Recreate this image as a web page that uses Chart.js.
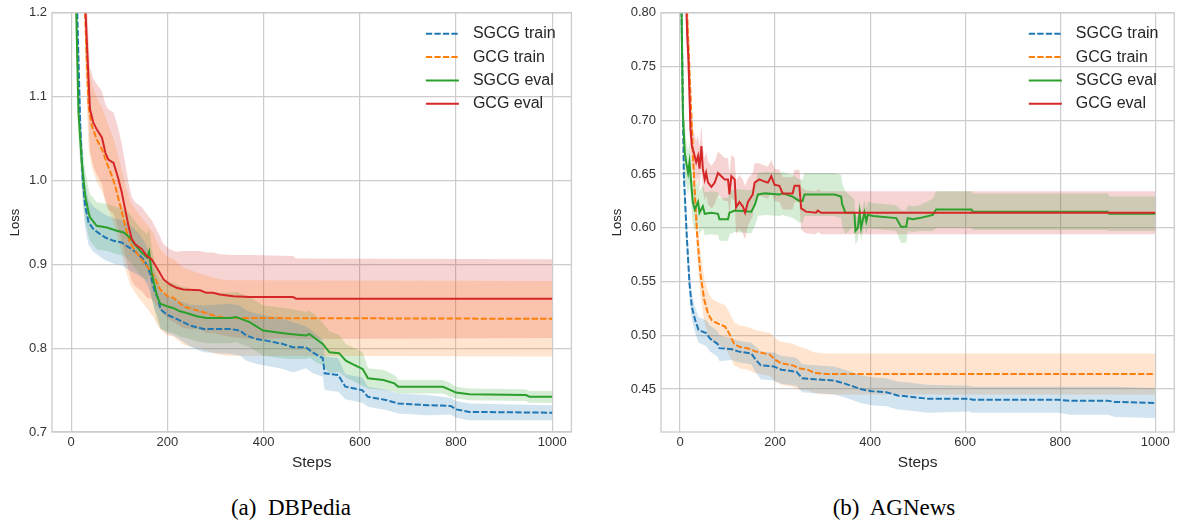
<!DOCTYPE html>
<html>
<head>
<meta charset="utf-8">
<script src="https://cdn.jsdelivr.net/npm/chart.js@4.4.1/dist/chart.umd.min.js"></script>
<style>
  body { margin: 0; background: #fff; }
  #fig { position: relative; width: 1178px; height: 521px; overflow: hidden; }
  .panel { position: absolute; top: 0; height: 480px; }
  .cap { position: absolute; top: 496px; font-family: "Liberation Serif", "Times New Roman", serif; font-size: 23px; line-height: 23px; white-space: pre; transform: translateX(-50%); color: #000; }
</style>
</head>
<body>
<div id="fig">
  <div class="panel" style="left:0;width:590px"><canvas id="dbpedia"></canvas></div>
  <div class="panel" style="left:590px;width:588px"><canvas id="agnews"></canvas></div>
  <div class="cap" style="left:291px">(a)  DBPedia</div>
  <div class="cap" style="left:894px">(b)  AGNews</div>
</div>
<script>
// ---- axis ticks ----
const xTicks = [0, 200, 400, 600, 800, 1000];
const dbYTicks = [0.7, 0.8, 0.9, 1.0, 1.1, 1.2];
const agYTicks = [0.45, 0.50, 0.55, 0.60, 0.65, 0.70, 0.75, 0.80];

// ---- DBPedia (a) ----
const dbSgcgTrainSteps = [12, 19, 24, 29, 36, 46, 60, 71, 88, 105, 115, 126, 140, 150, 158, 164, 174, 180, 186, 199, 219, 247, 275, 330, 351, 364, 385, 406, 440, 461, 488, 502, 523, 527, 555, 570, 605, 617, 656, 680, 742, 789, 800, 828, 1000];
const dbSgcgTrainMean = [1.21, 1.061, 1.000, 0.970, 0.950, 0.942, 0.936, 0.932, 0.928, 0.926, 0.922, 0.918, 0.912, 0.906, 0.898, 0.889, 0.867, 0.860, 0.846, 0.840, 0.835, 0.827, 0.823, 0.823, 0.821, 0.815, 0.811, 0.809, 0.805, 0.801, 0.801, 0.795, 0.788, 0.770, 0.768, 0.754, 0.750, 0.742, 0.738, 0.734, 0.732, 0.731, 0.727, 0.724, 0.723];
const dbSgcgTrainStd = [0.03, 0.03, 0.027, 0.027, 0.027, 0.027, 0.027, 0.027, 0.027, 0.027, 0.027, 0.027, 0.025, 0.023, 0.022, 0.022, 0.022, 0.022, 0.022, 0.022, 0.022, 0.025, 0.028, 0.03, 0.03, 0.03, 0.03, 0.03, 0.03, 0.03, 0.025, 0.025, 0.022, 0.02, 0.02, 0.015, 0.015, 0.012, 0.012, 0.012, 0.012, 0.01, 0.01, 0.01, 0.009];

const dbGcgTrainSteps = [28, 36, 43, 53, 64, 74, 84, 91, 102, 112, 122, 133, 143, 157, 171, 185, 200, 213, 233, 268, 302, 323, 1000];
const dbGcgTrainMean = [1.21, 1.089, 1.065, 1.049, 1.037, 1.021, 1.006, 0.994, 0.970, 0.946, 0.926, 0.916, 0.908, 0.898, 0.887, 0.870, 0.862, 0.860, 0.850, 0.844, 0.838, 0.836, 0.835];
const dbGcgTrainStd = [0.05, 0.05, 0.05, 0.05, 0.05, 0.05, 0.05, 0.05, 0.05, 0.05, 0.05, 0.05, 0.05, 0.05, 0.05, 0.048, 0.047, 0.046, 0.046, 0.045, 0.045, 0.045, 0.045];

const dbSgcgEvalSteps = [10, 15, 22, 29, 36, 39, 53, 74, 95, 109, 122, 129, 143, 158, 162, 167, 178, 185, 199, 212, 226, 240, 261, 281, 330, 343, 371, 399, 426, 454, 488, 495, 509, 523, 537, 557, 571, 585, 606, 617, 649, 672, 680, 773, 789, 800, 828, 945, 953, 1000];
const dbSgcgEvalMean = [1.21, 1.081, 1.021, 0.982, 0.962, 0.956, 0.946, 0.944, 0.940, 0.938, 0.932, 0.926, 0.916, 0.908, 0.915, 0.890, 0.863, 0.853, 0.850, 0.848, 0.844, 0.842, 0.838, 0.836, 0.836, 0.837, 0.831, 0.821, 0.819, 0.817, 0.815, 0.817, 0.811, 0.805, 0.795, 0.794, 0.785, 0.781, 0.775, 0.764, 0.762, 0.758, 0.754, 0.754, 0.750, 0.747, 0.745, 0.744, 0.742, 0.742];
const dbSgcgEvalStd = [0.03, 0.03, 0.03, 0.03, 0.028, 0.028, 0.028, 0.028, 0.028, 0.028, 0.028, 0.028, 0.028, 0.028, 0.028, 0.03, 0.03, 0.03, 0.03, 0.03, 0.03, 0.03, 0.03, 0.03, 0.03, 0.03, 0.03, 0.03, 0.03, 0.03, 0.028, 0.028, 0.028, 0.025, 0.025, 0.022, 0.02, 0.02, 0.02, 0.012, 0.012, 0.01, 0.008, 0.008, 0.008, 0.007, 0.007, 0.007, 0.007, 0.007];

const dbGcgEvalSteps = [29, 36, 39, 46, 53, 64, 71, 77, 88, 98, 105, 112, 119, 126, 133, 147, 157, 167, 178, 192, 205, 219, 233, 268, 281, 295, 309, 337, 371, 461, 468, 1000];
const dbGcgEvalMean = [1.21, 1.121, 1.085, 1.069, 1.061, 1.051, 1.033, 1.025, 1.021, 1.002, 0.986, 0.966, 0.946, 0.930, 0.924, 0.918, 0.910, 0.906, 0.896, 0.882, 0.876, 0.872, 0.870, 0.869, 0.866, 0.866, 0.864, 0.862, 0.861, 0.861, 0.859, 0.859];
const dbGcgEvalStd = [0.05, 0.05, 0.05, 0.052, 0.054, 0.055, 0.058, 0.06, 0.06, 0.06, 0.058, 0.055, 0.052, 0.05, 0.05, 0.05, 0.05, 0.047, 0.045, 0.042, 0.042, 0.043, 0.046, 0.047, 0.048, 0.048, 0.048, 0.049, 0.05, 0.049, 0.048, 0.047];

// ---- AGNews (b) ----
const agSgcgTrainSteps = [3, 8, 14, 20, 25, 32, 39, 55, 63, 79, 83, 110, 122, 150, 158, 170, 197, 213, 245, 257, 284, 324, 347, 367, 379, 403, 434, 458, 481, 521, 608, 616, 797, 821, 900, 916, 1000];
const agSgcgTrainMean = [0.81, 0.650, 0.594, 0.548, 0.526, 0.514, 0.505, 0.502, 0.497, 0.492, 0.488, 0.487, 0.485, 0.483, 0.478, 0.472, 0.471, 0.468, 0.466, 0.460, 0.459, 0.458, 0.455, 0.452, 0.450, 0.448, 0.447, 0.444, 0.443, 0.441, 0.441, 0.440, 0.440, 0.439, 0.439, 0.438, 0.437];
const agSgcgTrainStd = [0.02, 0.02, 0.015, 0.013, 0.012, 0.012, 0.012, 0.012, 0.012, 0.012, 0.012, 0.01, 0.01, 0.01, 0.012, 0.013, 0.013, 0.013, 0.013, 0.013, 0.013, 0.013, 0.013, 0.013, 0.013, 0.013, 0.013, 0.013, 0.013, 0.013, 0.012, 0.012, 0.012, 0.013, 0.013, 0.014, 0.014];

const agGcgTrainSteps = [14, 24, 30, 36, 43, 51, 59, 67, 79, 95, 103, 114, 126, 142, 158, 189, 201, 213, 237, 253, 268, 284, 308, 1000];
const agGcgTrainMean = [0.81, 0.703, 0.641, 0.594, 0.557, 0.533, 0.520, 0.514, 0.511, 0.508, 0.502, 0.492, 0.489, 0.488, 0.485, 0.482, 0.477, 0.474, 0.472, 0.469, 0.468, 0.465, 0.464, 0.464];
const agGcgTrainStd = [0.02, 0.02, 0.02, 0.02, 0.02, 0.02, 0.02, 0.02, 0.02, 0.02, 0.02, 0.02, 0.02, 0.02, 0.02, 0.02, 0.02, 0.02, 0.02, 0.02, 0.019, 0.019, 0.019, 0.019];

const agSgcgEvalSteps = [3, 6, 10, 13, 17, 20, 24, 27, 31, 38, 41, 48, 52, 66, 80, 83, 101, 104, 115, 150, 158, 164, 179, 209, 216, 237, 251, 258, 262, 279, 325, 339, 341, 348, 367, 369, 374, 378, 381, 388, 392, 395, 406, 455, 465, 476, 479, 490, 504, 532, 539, 613, 616, 900, 903, 1000];
const agSgcgEvalMean = [0.81, 0.707, 0.670, 0.661, 0.651, 0.661, 0.639, 0.624, 0.617, 0.624, 0.614, 0.620, 0.613, 0.614, 0.613, 0.608, 0.608, 0.614, 0.616, 0.615, 0.622, 0.631, 0.632, 0.631, 0.632, 0.629, 0.625, 0.625, 0.631, 0.631, 0.631, 0.629, 0.622, 0.614, 0.614, 0.597, 0.600, 0.614, 0.600, 0.614, 0.606, 0.612, 0.611, 0.609, 0.601, 0.601, 0.609, 0.608, 0.609, 0.612, 0.617, 0.617, 0.615, 0.615, 0.613, 0.613];
const agSgcgEvalStd = [0.03, 0.03, 0.025, 0.02, 0.02, 0.02, 0.02, 0.02, 0.02, 0.02, 0.02, 0.02, 0.02, 0.02, 0.02, 0.02, 0.02, 0.02, 0.02, 0.02, 0.02, 0.02, 0.02, 0.02, 0.02, 0.02, 0.02, 0.02, 0.02, 0.02, 0.02, 0.02, 0.02, 0.02, 0.012, 0.012, 0.012, 0.012, 0.012, 0.012, 0.012, 0.012, 0.012, 0.012, 0.015, 0.015, 0.012, 0.012, 0.012, 0.015, 0.017, 0.017, 0.017, 0.017, 0.016, 0.016];

const agGcgEvalSteps = [13, 15, 18, 20, 22, 25, 29, 34, 38, 41, 45, 48, 52, 55, 59, 66, 73, 80, 87, 94, 101, 104, 108, 115, 118, 125, 132, 137, 143, 153, 157, 167, 178, 185, 192, 199, 209, 216, 237, 241, 251, 255, 265, 286, 290, 297, 1000];
const agGcgEvalMean = [0.81, 0.781, 0.754, 0.723, 0.692, 0.676, 0.670, 0.661, 0.667, 0.655, 0.676, 0.655, 0.645, 0.651, 0.642, 0.638, 0.642, 0.651, 0.648, 0.645, 0.645, 0.631, 0.648, 0.645, 0.619, 0.624, 0.620, 0.614, 0.624, 0.631, 0.642, 0.645, 0.643, 0.642, 0.648, 0.640, 0.639, 0.632, 0.632, 0.639, 0.639, 0.618, 0.615, 0.614, 0.616, 0.614, 0.614];
const agGcgEvalStd = [0.03, 0.03, 0.03, 0.025, 0.022, 0.02, 0.02, 0.02, 0.02, 0.02, 0.02, 0.02, 0.02, 0.02, 0.02, 0.02, 0.02, 0.02, 0.02, 0.02, 0.02, 0.02, 0.02, 0.02, 0.025, 0.025, 0.025, 0.025, 0.022, 0.02, 0.018, 0.015, 0.015, 0.015, 0.015, 0.015, 0.015, 0.015, 0.015, 0.015, 0.015, 0.02, 0.02, 0.02, 0.02, 0.02, 0.02];

// ---- styling ----
Chart.defaults.font.family = '"Liberation Sans", Arial, sans-serif';
Chart.defaults.color = '#333';
const GRID = '#cccccc';

function rgba(hex, a) {
  const n = parseInt(hex.slice(1), 16);
  return `rgba(${n >> 16}, ${(n >> 8) & 255}, ${n & 255}, ${a})`;
}

function series(label, color, dashed, steps, mean, std) {
  return { label, color, dash: dashed ? [6.3, 2.2] : [], steps, mean, std };
}

function buildDatasets(list) {
  const lines = [], bands = [];
  list.forEach((s, k) => {
    lines.push({
      label: s.label, isLine: true,
      data: s.steps.map((x, i) => ({ x, y: s.mean[i] })),
      borderColor: s.color, borderWidth: 2, borderDash: s.dash,
      pointRadius: 0, fill: false, order: list.length - k, clip: 0
    });
    // mean +/- std band
    bands.push({
      label: s.label + ' upper',
      data: s.steps.map((x, i) => ({ x, y: s.mean[i] + s.std[i] })),
      borderColor: 'rgba(0,0,0,0)', borderWidth: 0, pointRadius: 0,
      fill: '+1', backgroundColor: rgba(s.color, 0.2), order: 20 + k, clip: 0
    });
    bands.push({
      label: s.label + ' lower',
      data: s.steps.map((x, i) => ({ x, y: s.mean[i] - s.std[i] })),
      borderColor: 'rgba(0,0,0,0)', borderWidth: 0, pointRadius: 0,
      fill: false, order: 20 + k, clip: 0
    });
  });
  return lines.concat(bands);
}

// box round the plot (all four spines)
const frame = {
  id: 'frame',
  afterDatasetsDraw(chart) {
    const { ctx, chartArea: a } = chart;
    ctx.save();
    ctx.strokeStyle = GRID;
    ctx.lineWidth = 1.3;
    ctx.strokeRect(a.left, a.top, a.right - a.left, a.bottom - a.top);
    ctx.restore();
  }
};

// matplotlib-like legend in the upper right, no frame
const insideLegend = {
  id: 'insideLegend',
  afterDraw(chart) {
    const { ctx, chartArea: a } = chart;
    const items = chart.data.datasets.filter(d => d.isLine);
    ctx.save();
    ctx.font = '16px "Liberation Sans", Arial, sans-serif';
    ctx.textBaseline = 'middle';
    items.forEach((d, i) => {
      const y = a.top + 21 + i * 23.3;
      ctx.beginPath();
      ctx.setLineDash(d.borderDash);
      ctx.strokeStyle = d.borderColor;
      ctx.lineWidth = 2;
      ctx.moveTo(a.right - 145.5, y);
      ctx.lineTo(a.right - 112.5, y);
      ctx.stroke();
      ctx.setLineDash([]);
      ctx.fillStyle = '#262626';
      ctx.fillText(d.label, a.right - 98.5, y);
    });
    ctx.restore();
  }
};

function makeChart(id, list, cfg) {
  return new Chart(document.getElementById(id), {
    type: 'line',
    data: { datasets: buildDatasets(list) },
    plugins: [frame, insideLegend],
    options: {
      responsive: true,
      maintainAspectRatio: false,
      animation: false,
      events: [],
      layout: { padding: { left: 0, top: 11, right: cfg.padRight, bottom: 8 } },
      plugins: { legend: { display: false }, tooltip: { enabled: false } },
      scales: {
        x: {
          type: 'linear', min: -40, max: 1040,
          afterBuildTicks: sc => { sc.ticks = xTicks.map(v => ({ value: v })); },
          afterFit: sc => { sc.height = 40; },
          grid: { color: GRID, lineWidth: 1.2, drawTicks: false },
          border: { display: false },
          ticks: { padding: 3, color: '#333', font: { size: 13 }, maxRotation: 0, autoSkip: false, callback: v => String(v) },
          title: { display: true, text: 'Steps', color: '#262626', font: { size: 15.5 }, padding: 0 }
        },
        y: {
          min: cfg.yMin, max: cfg.yMax,
          afterBuildTicks: sc => { sc.ticks = cfg.yTicks.map(v => ({ value: v })); },
          afterFit: sc => { sc.width = cfg.yWidth; },
          grid: { color: GRID, lineWidth: 1.2, drawTicks: false },
          border: { display: false },
          ticks: { padding: 5, color: '#333', font: { size: 13 }, autoSkip: false, callback: v => v.toFixed(cfg.decimals) },
          title: { display: true, text: 'Loss', color: '#262626', font: { size: 13 }, padding: { top: cfg.lossPad, bottom: 0 } }
        }
      }
    }
  });
}

makeChart('dbpedia', [
  series('SGCG train', '#1f77b4', true, dbSgcgTrainSteps, dbSgcgTrainMean, dbSgcgTrainStd),
  series('GCG train', '#ff7f0e', true, dbGcgTrainSteps, dbGcgTrainMean, dbGcgTrainStd),
  series('SGCG eval', '#2ca02c', false, dbSgcgEvalSteps, dbSgcgEvalMean, dbSgcgEvalStd),
  series('GCG eval', '#d62728', false, dbGcgEvalSteps, dbGcgEvalMean, dbGcgEvalStd)
], { yMin: 0.7, yMax: 1.2, yTicks: dbYTicks, decimals: 1, yWidth: 52, padRight: 18.6, lossPad: 8 });

makeChart('agnews', [
  series('SGCG train', '#1f77b4', true, agSgcgTrainSteps, agSgcgTrainMean, agSgcgTrainStd),
  series('GCG train', '#ff7f0e', true, agGcgTrainSteps, agGcgTrainMean, agGcgTrainStd),
  series('SGCG eval', '#2ca02c', false, agSgcgEvalSteps, agSgcgEvalMean, agSgcgEvalStd),
  series('GCG eval', '#d62728', false, agGcgEvalSteps, agGcgEvalMean, agGcgEvalStd)
], { yMin: 0.41, yMax: 0.80, yTicks: agYTicks, decimals: 2, yWidth: 71, padRight: 3.7, lossPad: 20 });
</script>
</body>
</html>
